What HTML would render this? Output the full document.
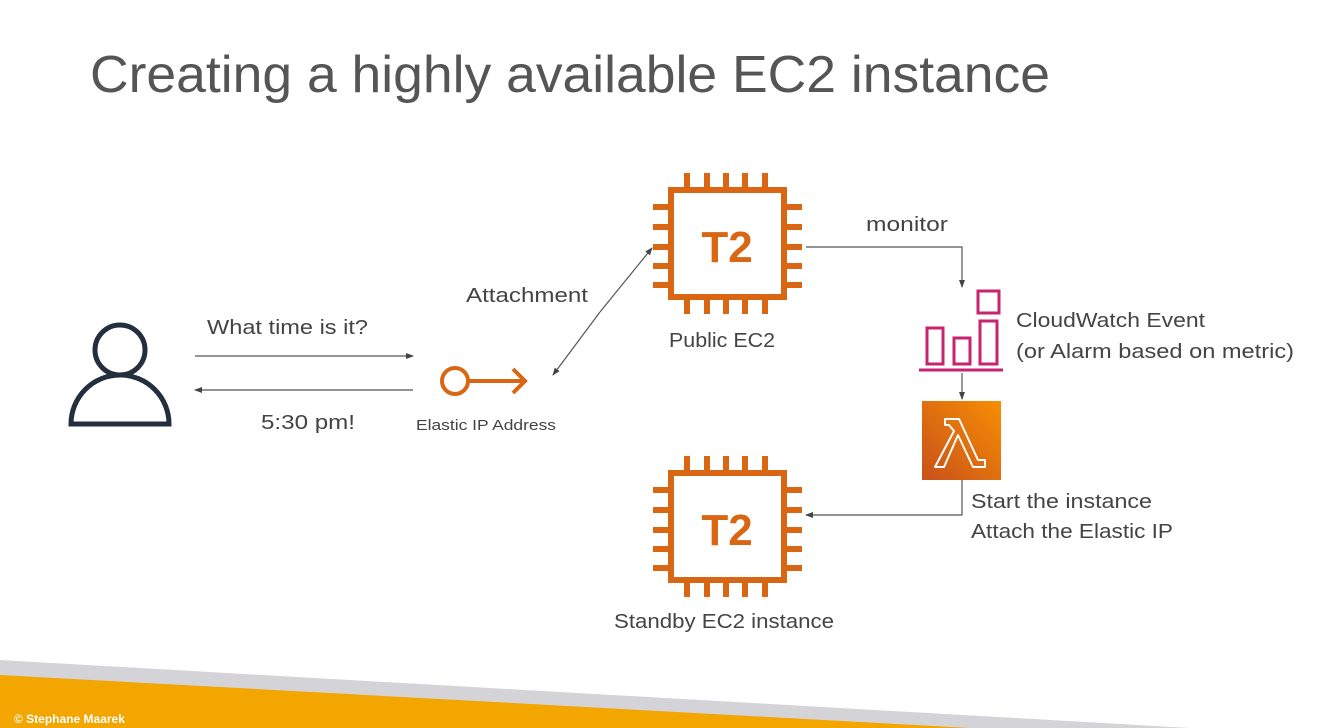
<!DOCTYPE html>
<html><head><meta charset="utf-8"><style>
body{margin:0;width:1324px;height:728px;overflow:hidden;background:#fff;font-family:"Liberation Sans",sans-serif;}
svg{position:absolute;left:0;top:0}
</style></head><body>
<svg width="1324" height="728" viewBox="0 0 1324 728" font-family="Liberation Sans, sans-serif">
<defs>
<marker id="a" markerWidth="8" markerHeight="8" refX="7" refY="4" orient="auto" markerUnits="userSpaceOnUse"><path d="M0,1 L8,4 L0,7 z" fill="#444"/></marker>
<g id="chip" fill="none" stroke="#d86613" stroke-width="6">
<rect x="671" y="190" width="113" height="107"/>
<path d="M687,173v17M707,173v17M726,173v17M745,173v17M765,173v17M687,297v17M707,297v17M726,297v17M745,297v17M765,297v17M653,207h18M653,227h18M653,247h18M653,266h18M653,285h18M784,207h18M784,227h18M784,247h18M784,266h18M784,285h18"/>
<text x="727" y="262" fill="#d86613" stroke="none" font-size="44" font-weight="bold" text-anchor="middle">T2</text>
</g>
</defs>
<text x="90" y="92" font-size="52" fill="#555" textLength="960" lengthAdjust="spacingAndGlyphs">Creating a highly available EC2 instance</text>
<polygon points="0,660 0,728 1190,728" fill="#d4d4d8"/>
<polygon points="0,675 0,728 970,728" fill="#f3a500"/>
<text x="14" y="723" font-size="12" fill="#fff" font-weight="bold">© Stephane Maarek</text>
<g fill="none" stroke="#232f3e" stroke-width="5">
<circle cx="120" cy="350" r="25"/>
<path d="M71,424 A49,49 0 0 1 169,424 Z"/>
</g>
<g stroke="#555" stroke-width="1.2" fill="none">
<line x1="195" y1="356" x2="413" y2="356" marker-end="url(#a)"/>
<line x1="413" y1="390" x2="195" y2="390" marker-end="url(#a)"/>
<line x1="600" y1="312" x2="652" y2="248" marker-end="url(#a)"/>
<line x1="600" y1="312" x2="553" y2="375" marker-end="url(#a)"/>
<path d="M806,247 H962 V287" marker-end="url(#a)"/>
<line x1="962" y1="373" x2="962" y2="399" marker-end="url(#a)"/>
<path d="M962,480 V515 H806" marker-end="url(#a)"/>
</g>
<g font-size="20" fill="#444" lengthAdjust="spacingAndGlyphs">
<text x="207" y="334" textLength="161" lengthAdjust="spacingAndGlyphs">What time is it?</text>
<text x="261" y="429" textLength="94" lengthAdjust="spacingAndGlyphs">5:30 pm!</text>
<text x="466" y="302" textLength="122" lengthAdjust="spacingAndGlyphs">Attachment</text>
<text x="669" y="347" textLength="106" lengthAdjust="spacingAndGlyphs">Public EC2</text>
<text x="614" y="628" textLength="220" lengthAdjust="spacingAndGlyphs">Standby EC2 instance</text>
<text x="866" y="231" textLength="82" lengthAdjust="spacingAndGlyphs">monitor</text>
<text x="1016" y="327" textLength="189" lengthAdjust="spacingAndGlyphs">CloudWatch Event</text>
<text x="1016" y="358" textLength="278" lengthAdjust="spacingAndGlyphs">(or Alarm based on metric)</text>
<text x="971" y="508" textLength="181" lengthAdjust="spacingAndGlyphs">Start the instance</text>
<text x="971" y="538" textLength="202" lengthAdjust="spacingAndGlyphs">Attach the Elastic IP</text>
</g>
<g fill="none" stroke="#d86613" stroke-width="4">
<circle cx="455" cy="381" r="13"/>
<path d="M468,381H525M513,369L525,381L513,393"/>
</g>
<text x="416" y="430" font-size="15" fill="#444" textLength="140" lengthAdjust="spacingAndGlyphs">Elastic IP Address</text>
<use href="#chip"/>
<use href="#chip" transform="translate(0,283)"/>
<g fill="none" stroke="#c7236f" stroke-width="3">
<rect x="927" y="328" width="16" height="36"/>
<rect x="954" y="338" width="16" height="26"/>
<rect x="980" y="321" width="17" height="43"/>
<rect x="978" y="291" width="21" height="22"/>
<line x1="919" y1="370" x2="1003" y2="370"/>
</g>
<defs><linearGradient id="lg" x1="0" y1="1" x2="1" y2="0"><stop offset="0" stop-color="#c8511b"/><stop offset="1" stop-color="#f78e04"/></linearGradient></defs>
<rect x="922" y="401" width="79" height="79" fill="url(#lg)"/>
<path d="M945,419h14l19,41h7v7h-12l-15-32l-14,32h-9l19-36l-5-6h-4z" fill="none" stroke="#fff" stroke-width="2" stroke-linejoin="round"/>
</svg>
</body></html>
